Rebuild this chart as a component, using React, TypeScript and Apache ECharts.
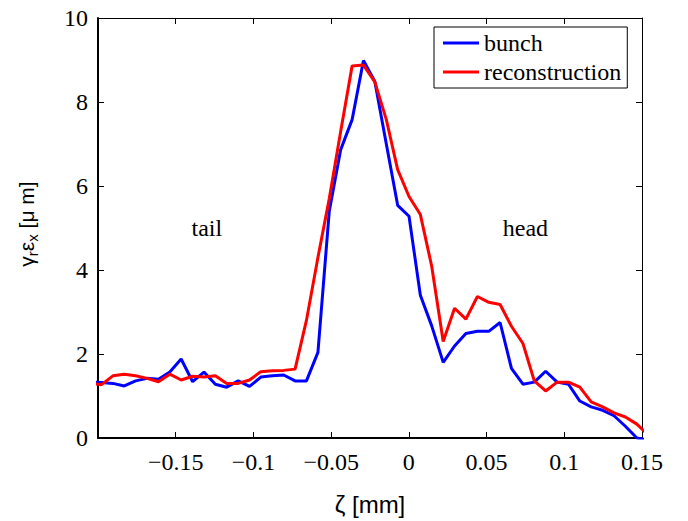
import { useEffect, useRef } from 'react';
import * as echarts from 'echarts';

// ζ positions of the samples (mm)
const zeta = [
  -0.2051, -0.1978, -0.1904, -0.1831, -0.1758, -0.1684, -0.1611, -0.1538, -0.1465, -0.1391,
  -0.1318, -0.1245, -0.1172, -0.1098, -0.1025, -0.0952, -0.0878, -0.0805, -0.0732, -0.0659,
  -0.0585, -0.0512, -0.0439, -0.0365, -0.0292, -0.0219, -0.0145, -0.0072, 0.0001, 0.0074,
  0.0147, 0.0221, 0.0294, 0.0367, 0.0441, 0.0514, 0.0587, 0.066, 0.0734, 0.0807,
  0.088, 0.0954, 0.1027, 0.11, 0.1173, 0.1247, 0.132, 0.1393, 0.1467, 0.154,
];

const bunch = [
  1.34, 1.32, 1.3, 1.24, 1.36, 1.42, 1.4, 1.57, 1.88, 1.34,
  1.57, 1.28, 1.21, 1.36, 1.23, 1.45, 1.48, 1.5, 1.36, 1.36,
  2.04, 5.4, 6.86, 7.58, 8.99, 8.49, 7.0, 5.54, 5.28, 3.4,
  2.67, 1.8, 2.19, 2.49, 2.54, 2.54, 2.75, 1.66, 1.28, 1.33,
  1.59, 1.33, 1.28, 0.88, 0.74, 0.66, 0.53, 0.28, 0.0, -0.05,
];

const reconstruction = [
  1.3, 1.27, 1.48, 1.52, 1.48, 1.42, 1.34, 1.52, 1.38, 1.47,
  1.45, 1.48, 1.3, 1.3, 1.38, 1.58, 1.6, 1.61, 1.64, 2.8,
  4.3, 5.7, 7.29, 8.86, 8.88, 8.48, 7.58, 6.39, 5.75, 5.32,
  4.09, 2.3, 3.09, 2.83, 3.37, 3.23, 3.18, 2.66, 2.25, 1.36,
  1.12, 1.33, 1.33, 1.21, 0.86, 0.74, 0.6, 0.5, 0.33, 0.07,
];

const xTicks = [-0.15, -0.1, -0.05, 0, 0.05, 0.1, 0.15];
const yTicks = [0, 2, 4, 6, 8, 10];
const seriesNames = ['bunch', 'reconstruction'];
const regionNames = ['tail', 'head'];
const regionCoords = [
  [-0.13, 5],
  [0.075, 5],
];

const SERIF = "'Liberation Serif', 'Times New Roman', 'DejaVu Serif', serif";
const SANS = "'Liberation Sans', Arial, 'DejaVu Sans', sans-serif";

const fmtX = (v: number) => (v === 0 ? '0' : (v < 0 ? '\u2212' : '') + String(Math.abs(v)));

export default function App() {
  const ref = useRef<HTMLDivElement>(null);
  useEffect(() => {
    const chart = echarts.init(ref.current!, null, { renderer: 'svg' });
    const tickStyle = { show: true, inside: true, length: 6, lineStyle: { color: '#000', width: 1 } };
    chart.setOption({
      animation: false,
      backgroundColor: '#fff',
      textStyle: { fontFamily: SERIF },
      grid: { left: 98, right: 46, top: 18, bottom: 82, containLabel: false },
      legend: {
        orient: 'vertical',
        left: 434,
        top: 27,
        padding: [4, 6, 4, 9],
        itemWidth: 36,
        itemHeight: 3,
        itemGap: 5,
        icon: 'rect',
        borderColor: '#000',
        borderWidth: 1,
        borderRadius: 0,
        backgroundColor: '#fff',
        textStyle: { fontFamily: SERIF, fontSize: 24, lineHeight: 24, color: '#000' },
        data: seriesNames,
      },
      xAxis: [
        {
          type: 'value',
          min: -0.2,
          max: 0.15,
          position: 'bottom',
          axisLine: { show: true, onZero: false, lineStyle: { color: '#000', width: 2 } },
          axisTick: { ...tickStyle, customValues: xTicks },
          axisLabel: {
            customValues: xTicks,
            formatter: fmtX,
            fontFamily: SERIF,
            fontSize: 24,
            color: '#000',
            margin: 12,
          },
          splitLine: { show: false },
          name: 'ζ [mm]',
          nameLocation: 'middle',
          nameGap: 54,
          nameTextStyle: { fontFamily: SANS, fontSize: 24, color: '#000' },
        },
        {
          type: 'value',
          min: -0.2,
          max: 0.15,
          position: 'top',
          axisLine: { show: true, onZero: false, lineStyle: { color: '#000', width: 1 } },
          axisTick: { ...tickStyle, customValues: xTicks },
          axisLabel: { show: false },
          splitLine: { show: false },
        },
      ],
      yAxis: [
        {
          type: 'value',
          min: 0,
          max: 10,
          interval: 2,
          position: 'left',
          axisLine: { show: true, onZero: false, lineStyle: { color: '#000', width: 2 } },
          axisTick: { ...tickStyle, customValues: yTicks },
          axisLabel: {
            customValues: yTicks,
            fontFamily: SERIF,
            fontSize: 24,
            color: '#000',
            margin: 10,
          },
          splitLine: { show: false },
        },
        {
          type: 'value',
          min: 0,
          max: 10,
          interval: 2,
          position: 'right',
          axisLine: { show: true, onZero: false, lineStyle: { color: '#000', width: 1 } },
          axisTick: { ...tickStyle, customValues: yTicks },
          axisLabel: { show: false },
          splitLine: { show: false },
        },
      ],
      series: [
        {
          name: seriesNames[0],
          type: 'line',
          xAxisIndex: 0,
          yAxisIndex: 0,
          showSymbol: false,
          symbol: 'none',
          clip: true,
          lineStyle: { color: '#0000ff', width: 3 },
          itemStyle: { color: '#0000ff' },
          data: zeta.map((x, i) => [x, bunch[i]]),
        },
        {
          name: seriesNames[1],
          type: 'line',
          xAxisIndex: 0,
          yAxisIndex: 0,
          showSymbol: false,
          symbol: 'none',
          clip: true,
          lineStyle: { color: '#ff0000', width: 3 },
          itemStyle: { color: '#ff0000' },
          data: zeta.map((x, i) => [x, reconstruction[i]]),
        },
      ],
    });

    const regionTexts = regionNames.map((name, i) => {
      const p = chart.convertToPixel({ gridIndex: 0 }, regionCoords[i]) as number[];
      return {
        type: 'text',
        x: p[0],
        y: p[1],
        style: {
          text: name,
          fontFamily: SERIF,
          fontSize: 24,
          fill: '#000',
          align: 'center',
          verticalAlign: 'middle',
        },
      };
    });

    chart.setOption({
      graphic: [
        ...regionTexts,
        {
          type: 'text',
          x: 26,
          y: 224,
          rotation: Math.PI / 2,
          style: {
            text: '{m|γ}{s|r}{m|ε}{s|x}{m| [μ m]}',
            align: 'center',
            verticalAlign: 'middle',
            fill: '#000',
            rich: {
              m: { fontFamily: SANS, fontSize: 21, lineHeight: 28, verticalAlign: 'middle', fill: '#000' },
              s: { fontFamily: SANS, fontSize: 15, lineHeight: 15, verticalAlign: 'bottom', fill: '#000' },
            },
          },
        },
      ],
    });

    return () => chart.dispose();
  }, []);
  return <div ref={ref} style={{ position: 'absolute', left: 0, top: 0, width: 688, height: 521 }} />;
}
